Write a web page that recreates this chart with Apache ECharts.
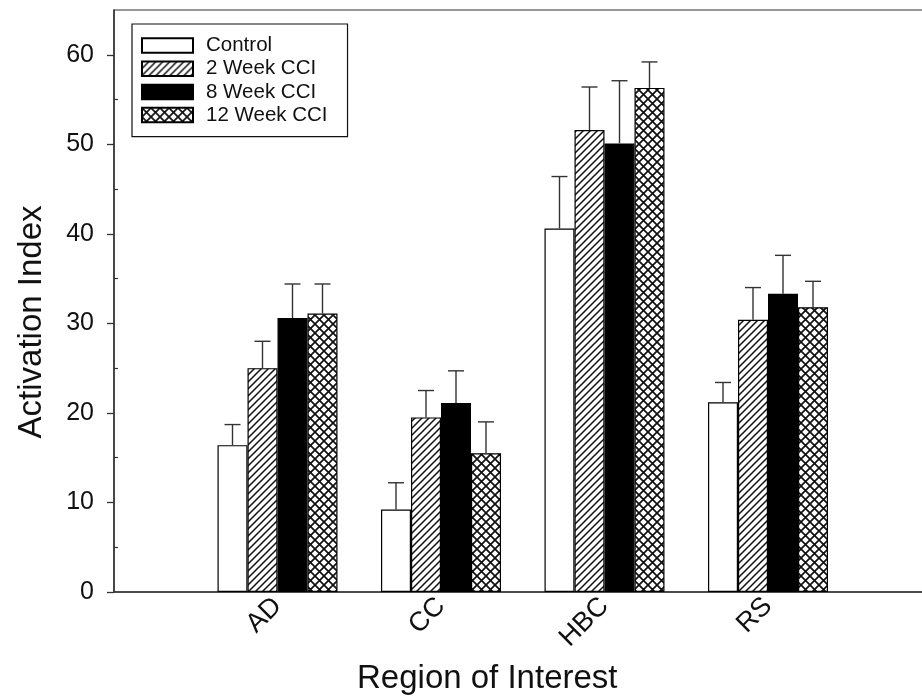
<!DOCTYPE html>
<html>
<head>
<meta charset="utf-8">
<script src="https://cdn.jsdelivr.net/npm/echarts@6/dist/echarts.min.js"></script>
<style>
    html, body { margin: 0; padding: 0; background: #fff; }
    #chart { width: 922px; height: 698px; }
</style>
</head>
<body>
<div id="chart"></div>
<script>
// empty slots at both ends keep the regions off the frame edges
const regions = ["", "AD", "CC", "HBC", "RS", ""];
const groupNames = ["Control", "2 Week CCI", "8 Week CCI", "12 Week CCI"];

const control = ["-", 16.4, 9.2, 40.6, 21.2, "-"];
const week2 = ["-", 25.0, 19.5, 51.6, 30.4, "-"];
const week8 = ["-", 30.6, 21.1, 50.1, 33.3, "-"];
const week12 = ["-", 31.1, 15.5, 56.3, 31.8, "-"];

const controlErr = [0, 2.3, 3.0, 5.8, 2.2, 0];
const week2Err = [0, 3.0, 3.0, 4.8, 3.6, 0];
const week8Err = [0, 3.8, 3.6, 7.0, 4.3, 0];
const week12Err = [0, 3.3, 3.5, 2.9, 2.9, 0];

const yTicks = [0, 10, 20, 30, 40, 50, 60];

const BAR_W = 30;
const FONT = "'Liberation Sans', Arial, sans-serif";

function hatchPattern() {
    const c = document.createElement("canvas");
    c.width = 7;
    c.height = 7;
    const ctx = c.getContext("2d");
    ctx.fillStyle = "#fff";
    ctx.fillRect(0, 0, 7, 7);
    ctx.strokeStyle = "#111";
    ctx.lineWidth = 1.5;
    ctx.beginPath();
    ctx.moveTo(-1, 8); ctx.lineTo(8, -1);
    ctx.moveTo(-1, 1); ctx.lineTo(1, -1);
    ctx.moveTo(6, 8); ctx.lineTo(8, 6);
    ctx.stroke();
    return { image: c, repeat: "repeat" };
}

function crossPattern() {
    const c = document.createElement("canvas");
    c.width = 9;
    c.height = 9;
    const ctx = c.getContext("2d");
    ctx.fillStyle = "#fff";
    ctx.fillRect(0, 0, 9, 9);
    ctx.strokeStyle = "#111";
    ctx.lineWidth = 1.7;
    ctx.beginPath();
    ctx.moveTo(-1, -1); ctx.lineTo(10, 10);
    ctx.moveTo(-1, 10); ctx.lineTo(10, -1);
    ctx.stroke();
    return { image: c, repeat: "repeat" };
}

const fills = ["#fff", hatchPattern(), "#000", crossPattern()];
const means = [control, week2, week8, week12];
const errs = [controlErr, week2Err, week8Err, week12Err];

function barSeries(i) {
    return {
        name: groupNames[i],
        type: "bar",
        data: means[i],
        barWidth: BAR_W,
        barGap: "0%",
        itemStyle: {
            color: fills[i],
            borderColor: "#000",
            borderWidth: 1.2
        },
        emphasis: { disabled: true },
        z: 2
    };
}

function errorSeries(i) {
    const data = [];
    for (let k = 0; k < regions.length; k++) {
        if (means[i][k] === "-") continue;
        data.push([k, means[i][k], means[i][k] + errs[i][k]]);
    }
    const offset = (i - 1.5) * BAR_W;
    return {
        type: "custom",
        data: data,
        encode: { x: 0, y: 2 },
        silent: true,
        z: 3,
        renderItem: function(params, api) {
            const lo = api.coord([api.value(0), api.value(1)]);
            const hi = api.coord([api.value(0), api.value(2)]);
            const x = lo[0] + offset;
            const style = { stroke: "#333", lineWidth: 1.4 };
            return {
                type: "group",
                children: [
                    { type: "line", shape: { x1: x, y1: lo[1], x2: x, y2: hi[1] }, style: style },
                    { type: "line", shape: { x1: x - 8, y1: hi[1], x2: x + 8, y2: hi[1] }, style: style }
                ]
            };
        }
    };
}

const chart = echarts.init(document.getElementById("chart"));

chart.setOption({
    animation: false,
    grid: {
        left: 114,
        top: 10,
        bottom: 106,
        width: 817.5,
        outerBoundsMode: "none",
        show: true,
        borderColor: "#333",
        borderWidth: 1.2
    },
    legend: {
        data: groupNames,
        orient: "vertical",
        left: 132,
        top: 24,
        padding: [11, 20, 11, 9],
        itemWidth: 51,
        itemHeight: 14.5,
        itemGap: 2.2,
        selectedMode: false,
        borderColor: "#111",
        borderWidth: 1.2,
        backgroundColor: "#fff",
        icon: "rect",
        textStyle: {
            fontFamily: FONT,
            fontSize: 20.5,
            color: "#111",
            padding: [0, 0, 0, 8]
        }
    },
    xAxis: {
        type: "category",
        data: regions,
        boundaryGap: false,
        axisLine: { lineStyle: { color: "#333", width: 1.5 } },
        axisTick: { show: false },
        axisLabel: {
            interval: 0,
            rotate: 45,
            margin: 10,
            fontFamily: FONT,
            fontSize: 27,
            color: "#111"
        },
        name: "Region of Interest",
        nameLocation: "middle",
        nameGap: 70,
        nameTextStyle: {
            fontFamily: FONT,
            fontSize: 33,
            color: "#111",
            padding: [0, 71, 0, 0]
        },
        splitLine: { show: false }
    },
    yAxis: [
        {
            type: "value",
            min: 0,
            max: 65,
            interval: 10,
            axisLine: { show: true, lineStyle: { color: "#333", width: 1.5 } },
            axisTick: { show: true, length: 7, lineStyle: { color: "#333", width: 1.3 } },
            axisLabel: {
                showMaxLabel: false,
                margin: 20,
                fontFamily: FONT,
                fontSize: 25,
                color: "#111",
                formatter: function(v) {
                    return yTicks.indexOf(v) >= 0 ? String(v) : "";
                }
            },
            splitLine: { show: false },
            name: "Activation Index",
            nameLocation: "middle",
            nameGap: 66,
            nameTextStyle: {
                fontFamily: FONT,
                fontSize: 33,
                color: "#111",
                padding: [0, 42, 0, 0]
            }
        },
        {
            // inward minor ticks
            type: "value",
            min: 0,
            max: 65,
            interval: 10,
            position: "left",
            axisLine: { show: false },
            axisTick: { show: false, inside: true },
            minorTick: { show: true, splitNumber: 2, length: 4, lineStyle: { color: "#333", width: 1.2 } },
            axisLabel: { show: false },
            splitLine: { show: false }
        }
    ],
    series: [
        barSeries(0), barSeries(1), barSeries(2), barSeries(3),
        errorSeries(0), errorSeries(1), errorSeries(2), errorSeries(3)
    ]
});
</script>
</body>
</html>
